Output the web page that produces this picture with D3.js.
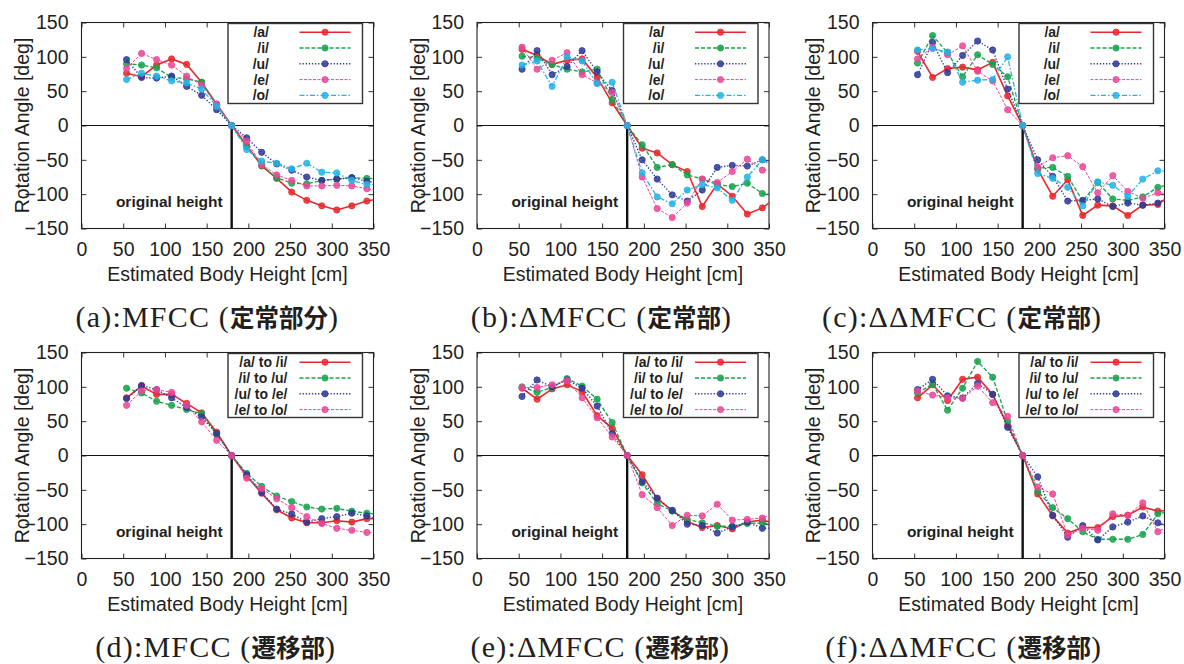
<!DOCTYPE html>
<meta charset="utf-8">
<script src="https://d3js.org/d3.v7.min.js"></script>
<style>
  body { margin: 0; background: #fff; }
  svg text { font-family: "Liberation Sans", Arial, sans-serif; fill: #231f20; }
</style>
<div id="my_dataviz"></div>
<script>

// ---- data ----
var heights = [54, 72, 90, 108, 126, 144, 162, 180, 198, 216, 234, 252, 270, 288, 306, 324, 342, 360];
var originalHeight = 180;
var xTicks = [0, 50, 100, 150, 200, 250, 300, 350];
var yTicks = [-150, -100, -50, 0, 50, 100, 150];

var vowelNames = ["/a/", "/i/", "/u/", "/e/", "/o/"];
var transNames = ["/a/ to /i/", "/i/ to /u/", "/u/ to /e/", "/e/ to /o/"];

var captionHeads = ["(a):MFCC (", "(b):\u0394MFCC (", "(c):\u0394\u0394MFCC (",
                    "(d):MFCC (", "(e):\u0394MFCC (", "(f):\u0394\u0394MFCC ("];
var captionJa = ["定常部分", "定常部", "定常部", "遷移部", "遷移部", "遷移部"];

// (a) MFCC, steady part
var mfccSteady_a = [76, 71, 88, 97, 89, 63, 31, 0, -29, -59, -77, -97, -109, -117, -123, -117, -110, -106];
var mfccSteady_i = [90, 88, 84, 70, 68, 63, 29, 0, -31, -58, -76, -84, -85, -80, -78, -76, -77, -78];
var mfccSteady_u = [96, 70, 69, 72, 57, 44, 23, 0, -18, -39, -56, -65, -75, -80, -78, -76, -81, -85];
var mfccSteady_e = [83, 105, 96, 88, 72, 59, 31, 0, -23, -57, -72, -80, -88, -88, -87, -88, -92, -97];
var mfccSteady_o = [67, 76, 72, 65, 62, 53, 28, 0, -35, -52, -55, -63, -55, -68, -69, -80, -86, -85];

// (b) delta MFCC, steady part
var dMfccSteady_a = [111, 102, 89, 95, 97, 70, 33, 0, -33, -40, -57, -67, -118, -85, -103, -129, -120, -104];
var dMfccSteady_i = [101, 98, 89, 82, 78, 82, 38, 0, -28, -61, -57, -72, -78, -86, -89, -84, -99, -100];
var dMfccSteady_u = [82, 109, 74, 86, 109, 78, 51, 0, -50, -78, -101, -110, -94, -61, -58, -59, -50, -58];
var dMfccSteady_e = [114, 82, 95, 106, 74, 62, 48, 0, -75, -121, -134, -113, -78, -83, -67, -49, -65, -65];
var dMfccSteady_o = [88, 94, 57, 100, 94, 61, 63, 0, -69, -104, -114, -94, -86, -91, -109, -75, -50, -62];

// (c) delta-delta MFCC, steady part
var ddMfccSteady_a = [108, 70, 83, 85, 81, 92, 43, 0, -64, -103, -79, -131, -116, -117, -131, -116, -115, -100];
var ddMfccSteady_i = [91, 131, 106, 71, 103, 89, 71, 0, -62, -61, -74, -110, -83, -107, -109, -104, -90, -85];
var ddMfccSteady_u = [74, 121, 77, 102, 123, 110, 53, 0, -50, -74, -110, -109, -107, -118, -113, -116, -113, -100];
var ddMfccSteady_e = [97, 114, 103, 116, 79, 65, 23, 0, -60, -47, -44, -60, -98, -73, -96, -106, -98, -100];
var ddMfccSteady_o = [110, 112, 107, 63, 66, 67, 100, 0, -70, -77, -90, -117, -82, -87, -103, -78, -66, -66];

// (d) MFCC, transition part
var mfccTrans_a2i = [84, 101, 89, 89, 76, 62, 34, 0, -30, -55, -79, -91, -98, -98, -95, -97, -92, -92];
var mfccTrans_i2u = [98, 91, 79, 73, 67, 61, 31, 0, -26, -45, -59, -67, -75, -78, -77, -81, -84, -86];
var mfccTrans_u2e = [83, 102, 96, 84, 70, 56, 32, 0, -28, -54, -78, -85, -97, -92, -89, -84, -88, -95];
var mfccTrans_e2o = [73, 94, 96, 92, 73, 49, 22, 0, -33, -48, -63, -76, -89, -99, -106, -109, -112, -114];

// (e) delta MFCC, transition part
var dMfccTrans_a2i = [98, 82, 97, 103, 93, 58, 40, 0, -28, -63, -80, -96, -105, -102, -107, -97, -94, -100];
var dMfccTrans_i2u = [100, 92, 99, 112, 101, 82, 48, 0, -40, -70, -81, -93, -98, -103, -103, -99, -98, -102];
var dMfccTrans_u2e = [86, 110, 100, 110, 98, 72, 32, 0, -38, -62, -80, -100, -102, -113, -104, -97, -106, -106];
var dMfccTrans_e2o = [99, 99, 103, 109, 84, 55, 27, 0, -57, -76, -102, -87, -88, -71, -94, -93, -91, -82];

// (f) delta-delta MFCC, transition part
var ddMfccTrans_a2i = [84, 103, 80, 111, 114, 89, 44, 0, -56, -88, -113, -105, -105, -89, -87, -75, -81, -80];
var ddMfccTrans_i2u = [91, 104, 66, 98, 137, 114, 50, 0, -52, -76, -92, -111, -122, -122, -122, -115, -85, -80];
var ddMfccTrans_u2e = [96, 111, 87, 84, 105, 89, 41, 0, -31, -87, -119, -102, -123, -104, -97, -88, -98, -103];
var ddMfccTrans_e2o = [94, 88, 84, 83, 101, 77, 57, 0, -46, -56, -116, -106, -109, -85, -87, -69, -111, -100];

// ---- layout & styles ----
var panelLeft = [81.5, 477, 872.5],
    panelTop = [22.5, 352.5],
    plotW = 292, plotH = 206;

var styles = [
  { color: "#e8282c", dash: null,        width: 1.6 },
  { color: "#16a24c", dash: "4,2",       width: 1.3 },
  { color: "#2f3a95", dash: "1.3,1.8",   width: 1.4 },
  { color: "#ec4696", dash: "3,1.5",     width: 1.0 },
  { color: "#25b3e6", dash: "5,2,1.5,2", width: 1.3 }
];

var panels = [
  { names: vowelNames, series: [mfccSteady_a, mfccSteady_i, mfccSteady_u, mfccSteady_e, mfccSteady_o], capEnd: 338 },
  { names: vowelNames, series: [dMfccSteady_a, dMfccSteady_i, dMfccSteady_u, dMfccSteady_e, dMfccSteady_o], capEnd: 731 },
  { names: vowelNames, series: [ddMfccSteady_a, ddMfccSteady_i, ddMfccSteady_u, ddMfccSteady_e, ddMfccSteady_o], capEnd: 1101 },
  { names: transNames, series: [mfccTrans_a2i, mfccTrans_i2u, mfccTrans_u2e, mfccTrans_e2o], capEnd: 335 },
  { names: transNames, series: [dMfccTrans_a2i, dMfccTrans_i2u, dMfccTrans_u2e, dMfccTrans_e2o], capEnd: 729 },
  { names: transNames, series: [ddMfccTrans_a2i, ddMfccTrans_i2u, ddMfccTrans_u2e, ddMfccTrans_e2o], capEnd: 1101 }
];

var svg = d3.select("#my_dataviz")
  .append("svg")
    .attr("width", 1184)
    .attr("height", 664);

panels.forEach(function(p, idx) {
  var left = panelLeft[idx % 3],
      top = panelTop[Math.floor(idx / 3)];

  var x = d3.scaleLinear().domain([0, 350]).range([left, left + plotW]);
  var y = d3.scaleLinear().domain([-150, 150]).range([top + plotH, top]);

  var g = svg.append("g");

  // clip path for lines going past 350
  var clipId = "clip" + idx;
  g.append("clipPath").attr("id", clipId)
    .append("rect")
      .attr("x", left).attr("y", top)
      .attr("width", plotW).attr("height", plotH);

  // axes (inward ticks, mirrored on top/right)
  var xAxis = g.append("g")
    .attr("transform", "translate(0," + (top + plotH) + ")")
    .call(d3.axisBottom(x).tickValues(xTicks).tickSize(-5).tickPadding(14));
  var yAxis = g.append("g")
    .attr("transform", "translate(" + left + ",0)")
    .call(d3.axisLeft(y).tickValues(yTicks).tickSize(-5).tickPadding(13));
  var xTop = g.append("g")
    .attr("transform", "translate(0," + top + ")")
    .call(d3.axisTop(x).tickValues(xTicks).tickSize(-5).tickFormat(""));
  var yRight = g.append("g")
    .attr("transform", "translate(" + (left + plotW) + ",0)")
    .call(d3.axisRight(y).tickValues(yTicks).tickSize(-5).tickFormat(""));

  [xAxis, yAxis, xTop, yRight].forEach(function(a) {
    a.select(".domain").remove();
    a.selectAll("line").attr("stroke", "#333");
    a.selectAll("text").attr("font-size", 19.5).attr("fill", "#231f20")
      .attr("font-family", "Liberation Sans, Arial, sans-serif");
  });

  // plot border
  g.append("rect")
    .attr("x", left).attr("y", top)
    .attr("width", plotW).attr("height", plotH)
    .attr("fill", "none").attr("stroke", "#222").attr("stroke-width", 1.1);

  // zero line
  g.append("line")
    .attr("x1", left).attr("x2", left + plotW)
    .attr("y1", y(0)).attr("y2", y(0))
    .attr("stroke", "#111").attr("stroke-width", 1.1);

  // original height marker
  g.append("line")
    .attr("x1", x(originalHeight)).attr("x2", x(originalHeight))
    .attr("y1", y(0)).attr("y2", y(-150))
    .attr("stroke", "#111").attr("stroke-width", 2.4);
  g.append("text")
    .attr("x", x(originalHeight) - 9)
    .attr("y", top + plotH - 22)
    .attr("text-anchor", "end")
    .attr("font-size", 15.5).attr("font-weight", "bold")
    .text("original height");

  // axis titles
  g.append("text")
    .attr("x", left + plotW / 2)
    .attr("y", top + plotH + 52)
    .attr("text-anchor", "middle")
    .attr("font-size", 19.5)
    .text("Estimated Body Height [cm]");
  g.append("text")
    .attr("transform", "translate(" + (left - 59) + "," + (top + plotH / 2) + ") rotate(-90)")
    .attr("text-anchor", "middle")
    .attr("dy", "0.35em")
    .attr("font-size", 19.5)
    .text("Rotation Angle [deg]");

  // series
  var line = d3.line()
    .x(function(d) { return x(d[0]); })
    .y(function(d) { return y(d[1]); });

  var plotG = g.append("g").attr("clip-path", "url(#" + clipId + ")");
  p.series.forEach(function(vals, si) {
    var st = styles[si];
    var pts = heights.map(function(h, k) { return [h, vals[k]]; });
    plotG.append("path")
      .datum(pts)
      .attr("fill", "none")
      .attr("stroke", st.color)
      .attr("stroke-width", st.width)
      .attr("stroke-dasharray", st.dash)
      .attr("d", line);
    plotG.selectAll(null)
      .data(pts)
      .enter().append("circle")
        .attr("cx", function(d) { return x(d[0]); })
        .attr("cy", function(d) { return y(d[1]); })
        .attr("r", 3.1)
        .attr("fill", st.color)
        .attr("fill-opacity", 0.85)
        .attr("stroke", st.color)
        .attr("stroke-width", 0.8);
  });

  // legend
  var boxW = 134.5, boxX = left + plotW - 11 - boxW, boxY = top + 1;
  var textEnd = p.names.length === 5 ? 41 : 59.5;
  var lg = g.append("g");
  lg.append("rect")
    .attr("x", boxX).attr("y", boxY)
    .attr("width", boxW).attr("height", 16 * p.names.length)
    .attr("fill", "#fff").attr("stroke", "#333").attr("stroke-width", 1.4);
  p.names.forEach(function(name, si) {
    var st = styles[si];
    var ry = boxY + 8.7 + 15.8 * si;
    lg.append("text")
      .attr("x", boxX + textEnd).attr("y", ry)
      .attr("dy", "0.35em")
      .attr("text-anchor", "end")
      .attr("font-size", 14).attr("font-weight", "bold")
      .text(name);
    lg.append("line")
      .attr("x1", boxX + 71.5).attr("x2", boxX + 122.5)
      .attr("y1", ry).attr("y2", ry)
      .attr("stroke", st.color)
      .attr("stroke-width", st.width)
      .attr("stroke-dasharray", st.dash);
    lg.append("circle")
      .attr("cx", boxX + 97).attr("cy", ry).attr("r", 3.1)
      .attr("fill", st.color).attr("fill-opacity", 0.85)
      .attr("stroke", st.color).attr("stroke-width", 0.8);
  });

  // caption
  var cap = svg.append("text")
    .attr("x", p.capEnd)
    .attr("y", top + plotH + 98.5)
    .attr("text-anchor", "end");
  cap.append("tspan")
    .attr("font-family", "Liberation Serif, DejaVu Serif, serif")
    .attr("font-size", 30)
    .attr("letter-spacing", 1.2)
    .text(captionHeads[idx]);
  cap.append("tspan")
    .attr("font-family", "Noto Sans CJK JP, sans-serif")
    .attr("font-weight", "bold")
    .attr("font-size", 24.5)
    .text(captionJa[idx]);
  cap.append("tspan")
    .attr("font-family", "Liberation Serif, DejaVu Serif, serif")
    .attr("font-size", 30)
    .text(")");
});

</script>
